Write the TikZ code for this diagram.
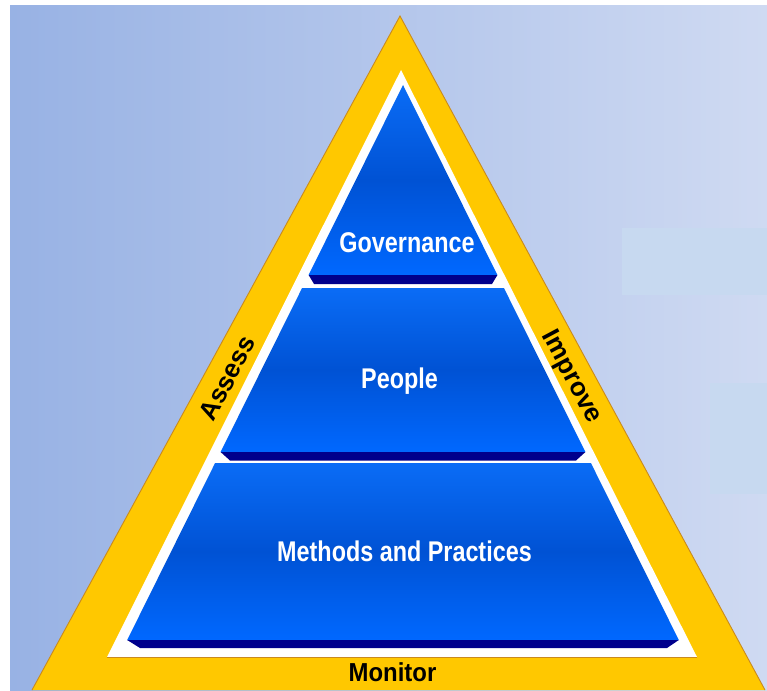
\documentclass[tikz,border=0pt]{standalone}
\usepackage{fontspec}
\setmainfont{Liberation Sans}
\newfontfamily\narrowfont[FakeStretch=0.82]{Liberation Sans}
\newfontfamily\monfont[FakeStretch=0.92]{Liberation Sans}
\definecolor{bgleft}{HTML}{98B2E4}
\definecolor{bgright}{HTML}{CFDAF2}
\definecolor{faint}{HTML}{C7D9F0}
\definecolor{gold}{HTML}{FFC800}
\definecolor{goldline}{HTML}{C98A1E}
\definecolor{bluetop}{HTML}{0A6CF6}
\definecolor{bluemid}{HTML}{0052D4}
\definecolor{bluebot}{HTML}{0068FF}
\definecolor{navy}{HTML}{00008C}
\tikzset{
  layer/.style={top color=bluetop, bottom color=bluebot, middle color=bluemid},
  strip/.style={fill=navy},
  wlabel/.style={font=\narrowfont\bfseries\fontsize{28.5}{30}\selectfont, text=white, inner sep=0pt, anchor=base},
  sidelabel/.style={font=\bfseries\fontsize{26}{28}\selectfont, text=black, inner sep=0pt},
}
\begin{document}
\begin{tikzpicture}[x=1pt,y=-1pt]
\useasboundingbox (0,0) rectangle (767,690);
% background
\shade[left color=bgleft, right color=bgright] (10,6) rectangle (767,690);
\fill[faint] (622,228) rectangle (767,295);
\fill[faint] (710,383) rectangle (767,494);
% outer yellow triangle
\coordinate (apex) at (400,16);
\coordinate (bl) at (32,690);
\coordinate (br) at (765,690);
\fill[gold] (apex) -- (bl) -- (br) -- cycle;
\draw[goldline, line width=0.9pt] (bl) -- (apex) -- (br);
% inner white triangle
\coordinate (wapex) at (401,70);
\coordinate (wbl) at (107,657);
\coordinate (wbr) at (697,657);
\fill[white] (wapex) -- (wbl) -- (wbr) -- cycle;
\draw[goldline, line width=0.6pt] (wbl) -- (wbr);
% governance layer
\shade[layer] (403,85) -- (308.6,275) -- (497.4,275) -- cycle;
\fill[strip] (308.6,275) -- (497.4,275) -- (492,284) -- (314,284) -- cycle;
% people layer
\shade[layer] (302.1,288) -- (503.9,288) -- (585.4,452) -- (220.6,452) -- cycle;
\fill[strip] (220.6,452) -- (585.4,452) -- (576,460.5) -- (230,460.5) -- cycle;
% methods layer
\shade[layer] (215.1,463) -- (590.9,463) -- (678.8,640) -- (127.2,640) -- cycle;
\fill[strip] (127.2,640) -- (678.8,640) -- (667,648) -- (140,648) -- cycle;
% labels
\node[wlabel] (gov) at (407,252) {Governance};
\node[wlabel] (peo) at (399.5,388) {People};
\node[wlabel] (met) at (404.5,561.5) {Methods and Practices};
\node[font=\monfont\bfseries\fontsize{26}{28}\selectfont, inner sep=0pt, anchor=base] (mon) at (392.5,681) {Monitor};
\node[sidelabel, rotate=62] (ass) at (227,378) {Assess};
\node[sidelabel, rotate=-62] (imp) at (571,377) {Improve};
\end{tikzpicture}
\end{document}
